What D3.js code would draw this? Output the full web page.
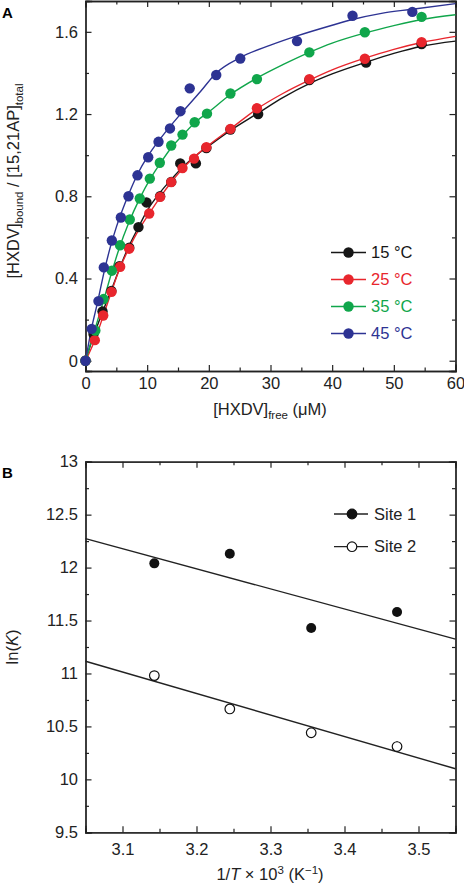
<!DOCTYPE html>
<html><head><meta charset="utf-8">
<script src="https://cdn.jsdelivr.net/npm/d3@7"></script>
<style>
body{margin:0;background:#fff;}
svg{display:block;font-family:"Liberation Sans",Arial,Helvetica,sans-serif;}
</style></head><body>
<svg id="c" width="464" height="884"></svg>
<script>
// ---------- Panel A data ----------
const seriesNames = ["15 °C","25 °C","35 °C","45 °C"];
const seriesColors = ["#161616","#e8262d","#10a64b","#2d3393"];
const pts15 = [[0,0],[1.3,0.13],[2.76,0.24],[4.2,0.34],[5.5,0.46],[7.1,0.55],[8.59,0.65],[9.89,0.77],[12.1,0.80],[13.9,0.87],[15.36,0.96],[17.9,0.96],[19.6,1.035],[23.5,1.125],[28.0,1.20],[36.3,1.365],[45.5,1.45],[54.5,1.54]];
const pts25 = [[0,0],[1.51,0.10],[2.87,0.22],[4.22,0.335],[5.62,0.457],[7.08,0.545],[10.33,0.716],[12.1,0.797],[13.9,0.869],[15.73,0.937],[17.6,0.983],[19.6,1.039],[23.5,1.128],[27.8,1.228],[36.3,1.37],[45.3,1.469],[54.5,1.55]];
const pts35 = [[0,0],[1.6,0.147],[2.92,0.30],[4.27,0.438],[5.6,0.562],[7.18,0.687],[8.8,0.789],[10.43,0.886],[12.05,0.963],[13.9,1.047],[15.73,1.10],[17.7,1.16],[19.7,1.202],[23.5,1.30],[27.8,1.37],[36.3,1.50],[45.3,1.598],[54.5,1.673]];
const pts45 = [[0,0],[1.0,0.155],[2.1,0.29],[2.97,0.454],[4.27,0.585],[5.73,0.697],[6.97,0.80],[8.43,0.902],[10.17,0.99],[11.84,1.065],[13.7,1.13],[15.4,1.214],[16.9,1.325],[21.2,1.39],[25.1,1.47],[34.3,1.555],[43.3,1.678],[53.0,1.697]];
const fit15 = [[0,0],[1.3,0.12],[2.8,0.24],[4.2,0.345],[5.6,0.455],[7,0.555],[8.6,0.65],[10,0.73],[12,0.815],[14,0.885],[16,0.948],[18,1.0],[20,1.045],[24,1.13],[28,1.205],[32,1.28],[36.3,1.348],[40,1.395],[45.3,1.45],[50,1.495],[54.5,1.53],[60,1.555]];
const fit25 = [[0,0],[1.5,0.10],[2.9,0.22],[4.2,0.335],[5.6,0.452],[7.1,0.55],[8.6,0.635],[10.3,0.715],[12.1,0.795],[13.9,0.868],[15.7,0.932],[17.6,0.99],[19.6,1.04],[23.6,1.13],[27.8,1.225],[32,1.30],[36.3,1.365],[40,1.415],[45.3,1.472],[50,1.515],[54.5,1.548],[60,1.578]];
const fit35 = [[0,0],[1.5,0.15],[3,0.30],[4.3,0.435],[5.5,0.55],[7,0.67],[8.8,0.79],[10.4,0.88],[12,0.955],[14,1.04],[16,1.105],[18,1.165],[20,1.21],[23.5,1.295],[27.8,1.375],[32,1.44],[36.3,1.50],[40,1.545],[45.3,1.594],[50,1.63],[54.5,1.66],[60,1.683]];
const fit45 = [[0,0],[1,0.16],[2,0.29],[3,0.43],[4,0.55],[5,0.65],[7,0.81],[8.4,0.905],[10,0.99],[12,1.075],[14,1.15],[16,1.22],[18.65,1.31],[21.2,1.40],[25.1,1.475],[30,1.535],[34.3,1.58],[40,1.632],[43.3,1.66],[48,1.69],[53,1.71],[60,1.737]];
const ptsA = [pts15, pts25, pts35, pts45];
const fitsA = [fit15, fit25, fit35, fit45];
const xTicksA = [0,10,20,30,40,50,60];
const xMinorA = [5,15,25,35,45,55];
const yTicksA = [0,0.4,0.8,1.2,1.6];
const yMinorA = [0.2,0.6,1.0,1.4];

// ---------- Panel B data ----------
const invT = [3.143,3.245,3.355,3.471];
const site1 = [12.04,12.13,11.43,11.58];
const site2 = [10.98,10.665,10.44,10.31];
const site2Err = [0,0,0,0.05];
const fitSite1 = [[3.05,12.273],[3.55,11.325]];
const fitSite2 = [[3.05,11.115],[3.55,10.10]];
const xTicksB = [3.1,3.2,3.3,3.4,3.5];
const xMinorB = [3.05,3.15,3.25,3.35,3.45,3.55];
const yTicksB = [9.5,10,10.5,11,11.5,12,12.5,13];
const yMinorB = [9.75,10.25,10.75,11.25,11.75,12.25,12.75];

const svg = d3.select("#c");
const ink = "#222";
const L = 85.5, R = 455.5;
const FS = 16.5;

function frame(g, x, y, top, bottom, xt, xm, yt, ym, xfmt, yfmt, xpad, ypad) {
  const ax = (a) => a.call(s => s.select(".domain").attr("stroke", ink).attr("stroke-width", 1.3))
                     .call(s => s.selectAll(".tick line").attr("stroke", ink).attr("stroke-width", 1.2))
                     .call(s => s.selectAll("text").attr("fill", "#222").attr("font-size", FS));
  g.append("g").attr("transform", `translate(0,${bottom})`)
    .call(d3.axisBottom(x).tickValues(xt).tickSize(-6).tickPadding(xpad).tickFormat(xfmt)).call(ax);
  g.append("g").attr("transform", `translate(0,${bottom})`)
    .call(d3.axisBottom(x).tickValues(xm).tickSize(-3.5).tickFormat("")).call(ax);
  g.append("g").attr("transform", `translate(0,${top})`)
    .call(d3.axisTop(x).tickValues(xt).tickSize(-6).tickFormat("")).call(ax);
  g.append("g").attr("transform", `translate(0,${top})`)
    .call(d3.axisTop(x).tickValues(xm).tickSize(-3.5).tickFormat("")).call(ax);
  g.append("g").attr("transform", `translate(${L},0)`)
    .call(d3.axisLeft(y).tickValues(yt).tickSize(-6).tickPadding(ypad).tickFormat(yfmt)).call(ax);
  g.append("g").attr("transform", `translate(${L},0)`)
    .call(d3.axisLeft(y).tickValues(ym).tickSize(-3.5).tickFormat("")).call(ax);
  g.append("g").attr("transform", `translate(${R},0)`)
    .call(d3.axisRight(y).tickValues(yt).tickSize(-6).tickFormat("")).call(ax);
  g.append("g").attr("transform", `translate(${R},0)`)
    .call(d3.axisRight(y).tickValues(ym).tickSize(-3.5).tickFormat("")).call(ax);
  g.selectAll(".domain").attr("stroke-linecap","square");
}

// ---------- Panel A ----------
const topA = 1, botA = 371;
const xA = d3.scaleLinear().domain([0,60]).range([L,R]);
const yA = d3.scaleLinear().domain([-0.05,1.75]).range([botA,topA]);
const gA = svg.append("g");
frame(gA, xA, yA, topA, botA, xTicksA, xMinorA, yTicksA, yMinorA,
  d3.format("d"), d => d === 0 ? "0" : d3.format(".1f")(d), 6.5, 7.5);

const lineA = d3.line().x(d => xA(d[0])).y(d => yA(d[1])).curve(d3.curveMonotoneX);
fitsA.forEach((f, i) => {
  gA.append("path").attr("d", lineA(f)).attr("fill","none")
    .attr("stroke", seriesColors[i]).attr("stroke-width", 1.4);
});
ptsA.forEach((p, i) => {
  gA.append("g").selectAll("circle").data(p).join("circle")
    .attr("cx", d => xA(d[0])).attr("cy", d => yA(d[1])).attr("r", 5.2)
    .attr("fill", seriesColors[i]);
});
// legend A
const legA = gA.append("g");
seriesNames.forEach((n, i) => {
  const yy = 252.5 + i * 27;
  legA.append("line").attr("x1", 331).attr("x2", 366).attr("y1", yy).attr("y2", yy)
    .attr("stroke", seriesColors[i]).attr("stroke-width", 1.4);
  legA.append("circle").attr("cx", 348.5).attr("cy", yy).attr("r", 5.2).attr("fill", seriesColors[i]);
  legA.append("text").attr("x", 371).attr("y", yy).attr("dy", "0.35em")
    .attr("font-size", FS).attr("fill", seriesColors[i]).text(n);
});
// labels A
svg.append("text").attr("x", 2).attr("y", 18).attr("font-size", 15).attr("font-weight", "bold").text("A");
const xlabA = svg.append("text").attr("x", 270).attr("y", 415).attr("text-anchor", "middle").attr("font-size", FS).attr("fill","#222");
xlabA.append("tspan").text("[HXDV]");
xlabA.append("tspan").attr("font-size", 11.5).attr("dy", 4).text("free");
xlabA.append("tspan").attr("dy", -4).text(" (μM)");
const ylabA = svg.append("text").attr("transform", "translate(19,181) rotate(-90)")
  .attr("text-anchor", "middle").attr("font-size", FS).attr("fill","#222");
ylabA.append("tspan").text("[HXDV]");
ylabA.append("tspan").attr("font-size", 11.5).attr("dy", 4).text("bound");
ylabA.append("tspan").attr("dy", -4).text(" / [15,21AP]");
ylabA.append("tspan").attr("font-size", 11.5).attr("dy", 4).text("total");

// ---------- Panel B ----------
const topB = 461.7, botB = 832.3;
const xB = d3.scaleLinear().domain([3.05,3.55]).range([L,R]);
const yB = d3.scaleLinear().domain([9.5,13]).range([botB,topB]);
const gB = svg.append("g");
frame(gB, xB, yB, topB, botB, xTicksB, xMinorB, yTicksB, yMinorB,
  d3.format(".1f"), d3.format(""), 11, 7.5);
const lineB = d3.line().x(d => xB(d[0])).y(d => yB(d[1]));
[fitSite1, fitSite2].forEach(f => {
  gB.append("path").attr("d", lineB(f)).attr("fill","none").attr("stroke", ink).attr("stroke-width", 1.4);
});
gB.append("g").selectAll("line").data(invT.map((t,i)=>[t, site2[i], site2Err[i]]).filter(d=>d[2]>0)).join("line")
  .attr("x1", d=>xB(d[0])).attr("x2", d=>xB(d[0]))
  .attr("y1", d=>yB(d[1]-d[2])).attr("y2", d=>yB(d[1]+d[2])).attr("stroke", ink).attr("stroke-width",1.2);
gB.append("g").selectAll("circle").data(invT.map((t,i)=>[t, site1[i]])).join("circle")
  .attr("cx", d=>xB(d[0])).attr("cy", d=>yB(d[1])).attr("r", 5).attr("fill", "#111");
gB.append("g").selectAll("circle").data(invT.map((t,i)=>[t, site2[i]])).join("circle")
  .attr("cx", d=>xB(d[0])).attr("cy", d=>yB(d[1])).attr("r", 4.8).attr("fill", "#fff")
  .attr("stroke", "#111").attr("stroke-width", 1.2);
// legend B
const legB = gB.append("g");
[["Site 1", true, 514],["Site 2", false, 546.7]].forEach(([n, filled, yy]) => {
  legB.append("line").attr("x1", 334).attr("x2", 368).attr("y1", yy).attr("y2", yy).attr("stroke", ink).attr("stroke-width", 1.3);
  legB.append("circle").attr("cx", 352).attr("cy", yy).attr("r", 4.8)
    .attr("fill", filled ? "#111" : "#fff").attr("stroke", "#111").attr("stroke-width", 1.2);
  legB.append("text").attr("x", 374).attr("y", yy).attr("dy", "0.35em").attr("font-size", FS).attr("fill","#222").text(n);
});
svg.append("text").attr("x", 2).attr("y", 478).attr("font-size", 15).attr("font-weight", "bold").text("B");
const xlabB = svg.append("text").attr("x", 270).attr("y", 880).attr("text-anchor", "middle").attr("font-size", FS).attr("fill","#222");
xlabB.append("tspan").text("1/");
xlabB.append("tspan").attr("font-style","italic").text("T");
xlabB.append("tspan").text(" × 10");
xlabB.append("tspan").attr("font-size", 11.5).attr("dy", -6).text("3");
xlabB.append("tspan").attr("dy", 6).text(" (K");
xlabB.append("tspan").attr("font-size", 11.5).attr("dy", -6).text("−1");
xlabB.append("tspan").attr("dy", 6).text(")");
const ylabB = svg.append("text").attr("transform", "translate(18,647) rotate(-90)")
  .attr("text-anchor", "middle").attr("font-size", FS).attr("fill","#222");
ylabB.append("tspan").text("ln(");
ylabB.append("tspan").attr("font-style","italic").text("K");
ylabB.append("tspan").text(")");
</script>
</body></html>
